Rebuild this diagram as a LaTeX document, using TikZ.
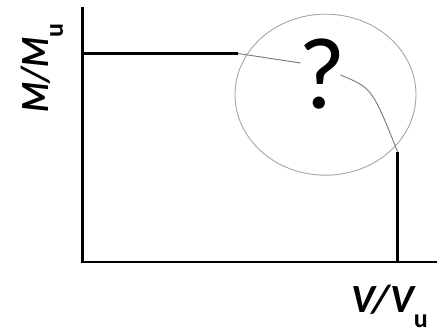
\documentclass[tikz,border=0pt]{standalone}
\usepackage{fontspec}
\setmainfont{Carlito}
\usetikzlibrary{calc,shapes.geometric}
\definecolor{ringgray}{RGB}{165,165,165}
\definecolor{linkgray}{RGB}{120,120,120}
\newcommand{\subu}{\raisebox{-15pt}{\fontsize{26}{26}\selectfont\upshape u}}
\begin{document}
\begin{tikzpicture}[x=1pt,y=-1pt,
  axis/.style={line width=2.6pt,black,line join=miter},
  limit/.style={line width=2.6pt,black},
  ring/.style={draw=ringgray,line width=0.9pt,ellipse,inner sep=0pt,
    minimum width=181pt,minimum height=161pt},
  link/.style={draw=linkgray,line width=0.9pt},
  axlabel/.style={inner sep=0pt,font=\fontsize{40}{40}\selectfont\bfseries\itshape}]
\useasboundingbox (0,0) rectangle (437,336);
% axes
\coordinate (ytop) at (82.7,7);
\coordinate (origin) at (82.7,262);
\coordinate (xend) at (437,262);
\draw[axis] (ytop) -- (origin) -- (xend);
% known limits
\coordinate (mstart) at (82.7,53.5);
\coordinate (mend) at (238,53.5);
\draw[limit] (mstart) -- (mend);
\coordinate (vbase) at (397.7,262);
\coordinate (vend) at (397.7,152);
\draw[limit] (vbase) -- (vend);
% unknown interaction region
\node[ring] (ring) at (325.5,94.7) {};
\node[inner sep=0pt,anchor=base,font=\fontsize{102}{102}\selectfont] (q) at (322.5,109) {?};
\coordinate (qin) at ($(q.base)+(-22,-46)$);
\coordinate (qout) at ($(q.base)+(18,-34)$);
\draw[link] (mend) -- (qin);
\draw[link] (qout) .. controls (372,88) .. (vend);
% axis labels
\node[axlabel,anchor=base west] (vlab) at (351,313) {V/V\subu};
\node[axlabel,anchor=base west,rotate=90] (mlab) at (48,113) {\scalebox{0.86}[1]{M/M}\subu};
\end{tikzpicture}
\end{document}
